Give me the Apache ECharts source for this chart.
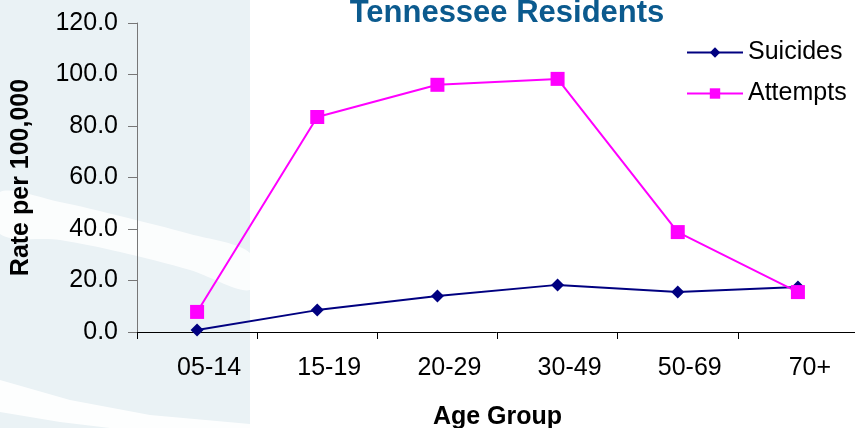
<!DOCTYPE html>
<html><head><meta charset="utf-8">
<script src="https://cdn.jsdelivr.net/npm/echarts@6/dist/echarts.min.js"></script>
<style>html,body{margin:0;padding:0;background:#fff}#c{width:855px;height:428px}</style>
</head><body><div id="c"></div>
<script>
const categories = ['05-14','15-19','20-29','30-49','50-69','70+'];
const suicides = [0.8, 8.5, 14.0, 18.3, 15.5, 17.5];
const attempts = [7.8, 83.5, 96.0, 98.3, 38.8, 15.5];
const yTicks = {min: 0, max: 120, interval: 20};

const chart = echarts.init(document.getElementById('c'));
chart.setOption({
  backgroundColor: '#ffffff',
  animation: false,
  graphic: [
    {type:'rect', z:-100, shape:{x:0,y:0,width:250,height:428}, style:{fill:'#eaf2f5'}},
    {type:'polygon', z:-99, shape:{points:[[0,192],[60,202],[120,216],[190,234],[250,253],[250,290],[190,270],[120,252],[60,240],[0,234]], smooth:0.3}, style:{fill:'#ffffff', opacity:0.8}},
    {type:'polygon', z:-99, shape:{points:[[0,380],[70,400],[150,415],[250,424],[250,428],[0,428]]}, style:{fill:'#ffffff', opacity:0.9}},
    {type:'polygon', z:-98, shape:{points:[[0,412],[60,422],[110,428],[0,428]]}, style:{fill:'#eaf2f5'}}
  ],
  title: {
    text: 'Tennessee Residents', left: 502, top: -7, textAlign: 'center',
    textStyle: {fontFamily: 'Liberation Sans', fontSize: 31, fontWeight: 'bold', color: '#0b5a8e'}
  },
  legend: {
    orient: 'vertical', left: 681, top: 35, itemGap: 16, itemWidth: 56, itemHeight: 13,
    textStyle: {fontFamily: 'Liberation Sans', fontSize: 25, color: '#000'},
    data: ['Suicides','Attempts']
  },
  grid: {left: 137, right: -3, top: 23, bottom: 96, containLabel: false, outerBoundsMode: 'none'},
  xAxis: {
    type: 'category', data: categories, boundaryGap: true,
    name: 'Age Group', nameLocation: 'middle', nameGap: 73,
    nameTextStyle: {fontFamily: 'Liberation Sans', fontSize: 25, fontWeight: 'bold', color: '#000'},
    axisLine: {lineStyle: {color: '#000', width: 1}},
    axisTick: {show: true, length: 7, lineStyle: {color: '#000'}},
    axisLabel: {fontFamily: 'Liberation Sans', fontSize: 25, color: '#000', margin: 24, padding: [0,0,0,24]},
    splitLine: {show: false}
  },
  yAxis: {
    type: 'value', min: yTicks.min, max: yTicks.max, interval: yTicks.interval,
    name: 'Rate per 100,000', nameLocation: 'middle', nameGap: 103, nameRotate: 90,
    nameTextStyle: {fontFamily: 'Liberation Sans', fontSize: 25, fontWeight: 'bold', color: '#000'},
    axisLine: {show: true, lineStyle: {color: '#777', width: 1}},
    axisTick: {show: true, length: 9, lineStyle: {color: '#777'}},
    axisLabel: {fontFamily: 'Liberation Sans', fontSize: 25, color: '#000', margin: 19,
      formatter: v => v.toFixed(1)},
    splitLine: {show: false}
  },
  series: [
    {name: 'Suicides', type: 'line', data: suicides, symbol: 'diamond', symbolSize: 13,
      lineStyle: {color: '#000080', width: 2}, itemStyle: {color: '#000080'}, z: 3},
    {name: 'Attempts', type: 'line', data: attempts, symbol: 'rect', symbolSize: 14,
      lineStyle: {color: '#ff00ff', width: 2}, itemStyle: {color: '#ff00ff'}, z: 4}
  ]
});
</script></body></html>
